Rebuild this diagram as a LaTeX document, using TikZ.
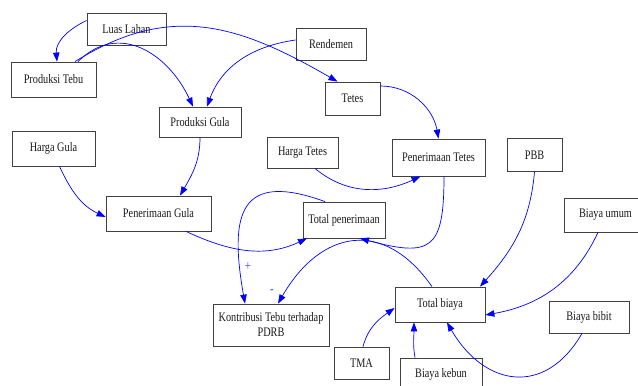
\documentclass[tikz,border=0pt]{standalone}
\usepackage{fontspec}
\setmainfont[FakeStretch=0.79]{Liberation Serif}
\usetikzlibrary{arrows.meta}

\begin{document}
\begin{tikzpicture}[x=1pt,y=1pt,
    box/.style={draw=black!75,line width=0.8pt,fill=white,inner sep=0pt,
      font=\fontsize{13}{15}\selectfont,text=black!90,align=center},
    link/.style={draw=blue,line width=0.7pt,-{Triangle[length=9pt,width=6.5pt]}},
    sign/.style={text=blue!75,inner sep=0pt,font=\fontsize{14}{14}\selectfont}]
  \useasboundingbox (0,0) rectangle (638,386);

  % variabel
  \node[box,minimum width=79pt,minimum height=32pt] (luas) at (126.5,357) {Luas Lahan};
  \node[box,minimum width=85pt,minimum height=35pt] (ptebu) at (53.5,306.5) {Produksi Tebu};
  \node[box,minimum width=70pt,minimum height=32pt] (rend) at (331,342) {Rendemen};
  \node[box,minimum width=55pt,minimum height=33pt] (tetes) at (352.5,287.5) {Tetes};
  \node[box,minimum width=82pt,minimum height=30pt] (pgula) at (200,264) {Produksi Gula};
  \node[box,minimum width=83pt,minimum height=35pt] (hgula) at (53.5,237.5) {Harga Gula};
  \node[box,minimum width=71pt,minimum height=31pt] (htetes) at (302.5,233.5) {Harga Tetes};
  \node[box,minimum width=93pt,minimum height=37pt] (ptetes) at (438.5,228.5) {Penerimaan Tetes};
  \node[box,minimum width=55pt,minimum height=33pt] (pbb) at (534.5,231) {PBB};
  \node[box,minimum width=105pt,minimum height=35pt] (pgulat) at (158.5,172.5) {Penerimaan Gula};
  \node[box,minimum width=82pt,minimum height=36pt] (tpen) at (344,166) {Total penerimaan};
  \node[box,minimum width=83pt,minimum height=34pt] (bumum) at (605.5,171) {Biaya umum};
  \node[box,minimum width=116pt,minimum height=42pt] (kontrib) at (271,61) {Kontribusi Tebu terhadap\\PDRB};
  \node[box,minimum width=90pt,minimum height=35pt] (tbiaya) at (440,81.5) {Total biaya};
  \node[box,minimum width=80pt,minimum height=32pt] (bbibit) at (589,69) {Biaya bibit};
  \node[box,minimum width=55pt,minimum height=32pt] (tma) at (361.5,23) {TMA};
  \node[box,minimum width=82pt,minimum height=32pt] (bkebun) at (441,12) {Biaya kebun};

  % hubungan
  \draw[link] (luas.168) to[out=205,in=95] ([xshift=3.5pt]ptebu.north);
  \draw[link] ([xshift=21.5pt]ptebu.north) to[out=32,in=150,looseness=1.1] ([xshift=-15pt]tetes.north);
  \draw[link] ([xshift=24.5pt]ptebu.north) to[out=45,in=115,looseness=1.2] ([xshift=-7pt]pgula.north);
  \draw[link] ([yshift=4pt]rend.west) to[out=188,in=70] ([xshift=7pt]pgula.north);
  \draw[link] ([yshift=12.5pt]tetes.east) to[out=0,in=100] (ptetes.north);
  \draw[link] (pgula.south) to[out=-90,in=60] ([xshift=21.5pt]pgulat.north);
  \draw[link] ([xshift=6pt]hgula.south) to[out=-65,in=155] ([yshift=-3.5pt]pgulat.west);
  \draw[link] ([xshift=12.5pt]htetes.south) to[out=-40,in=205] ([xshift=-18pt]ptetes.south);
  \draw[link] ([xshift=27.5pt]pgulat.south) to[out=-25,in=205] ([xshift=-37pt]tpen.south);
  \draw[link] ([xshift=5.5pt]ptetes.south) to[out=-90,in=-15,looseness=1.8] ([xshift=16pt]tpen.south);
  \draw[link] ([xshift=-8pt]tbiaya.north) to[out=125,in=60,looseness=1.4] ([xshift=7pt]kontrib.north);
  \draw[link] ([xshift=-19pt]tpen.north) to[out=160,in=100,looseness=1.8] ([xshift=-26pt]kontrib.north);
  \draw[link] (pbb.south) to[out=-95,in=48] ([xshift=40pt]tbiaya.north);
  \draw[link] ([xshift=-7.5pt]bumum.south) to[out=-115,in=10] ([yshift=-10.5pt]tbiaya.east);
  \draw[link] ([xshift=-7pt]bbibit.south) to[out=-120,in=-60,looseness=1.4] ([xshift=7pt]tbiaya.south);
  \draw[link] ([xshift=-26pt]bkebun.north) to[out=100,in=-90] ([xshift=-26pt]tbiaya.south);
  \draw[link] ([xshift=1.5pt]tma.north) to[out=75,in=215] ([yshift=-3.5pt]tbiaya.west);

  % tanda
  \node[sign] (plus) at (248,119) {+};
  \node[sign] (minus) at (272,94) {-};
\end{tikzpicture}
\end{document}
